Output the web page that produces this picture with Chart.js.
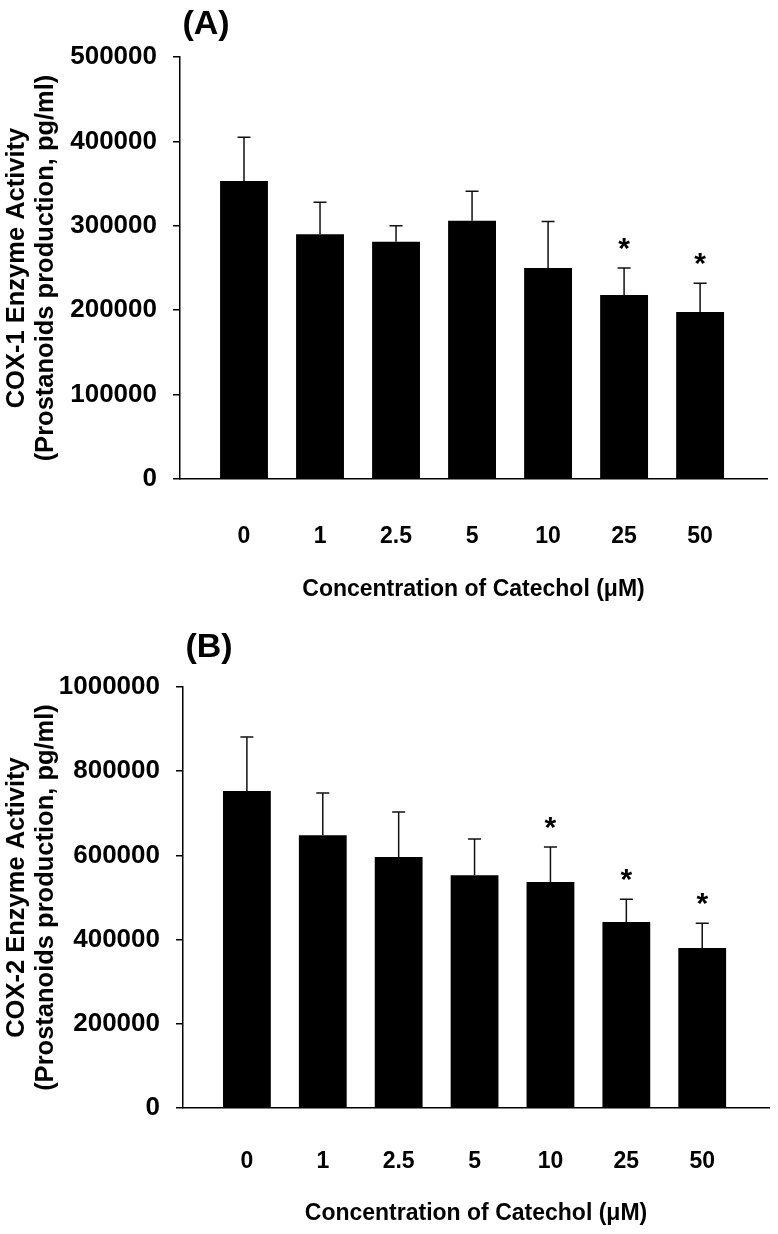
<!DOCTYPE html>
<html>
<head>
<meta charset="utf-8">
<script src="https://cdn.jsdelivr.net/npm/chart.js@4.4.1/dist/chart.umd.min.js"></script>
<style>
    body { margin: 0; background: #fff; }
    canvas { display: block; }
</style>
</head>
<body>
<canvas id="chartA" width="778" height="617"></canvas>
<canvas id="chartB" width="778" height="617"></canvas>
<script>
// концентрации катехола (мкМ)
let concLabels = ['0', '1', '2.5', '5', '10', '25', '50'];

// COX-1
let cox1Values = [353000, 290000, 281000, 306000, 250000, 218000, 198000];
let cox1Errors = [52000, 38000, 19000, 35000, 55000, 32000, 34000];
let cox1Stars = [0, 0, 0, 0, 0, 1, 1];
let cox1Ticks = [0, 100000, 200000, 300000, 400000, 500000];

// COX-2
let cox2Values = [753000, 648000, 596000, 553000, 537000, 442000, 380000];
let cox2Errors = [128000, 100000, 107000, 86000, 83000, 54000, 59000];
let cox2Stars = [0, 0, 0, 0, 1, 1, 1];
let cox2Ticks = [0, 200000, 400000, 600000, 800000, 1000000];

const FONT = '"Liberation Sans", Arial, sans-serif';

Chart.defaults.font.family = FONT;
Chart.defaults.color = '#000';

// усы ошибок, звездочки и подпись панели
let extrasPlugin = {
    id: 'extras',
    afterDatasetsDraw(chart, args, opts) {
        let ctx = chart.ctx;
        let xs = chart.scales.x;
        let ys = chart.scales.y;
        ctx.save();
        ctx.strokeStyle = '#111';
        ctx.lineWidth = 1.5;
        opts.values.forEach((v, i) => {
            let x = xs.getPixelForValue(i);
            let y0 = ys.getPixelForValue(v);
            let y1 = ys.getPixelForValue(v + opts.errors[i]);
            ctx.beginPath();
            ctx.moveTo(x, y0);
            ctx.lineTo(x, y1);
            ctx.moveTo(x - 6.5, y1);
            ctx.lineTo(x + 6.5, y1);
            ctx.stroke();
            if (opts.stars[i]) {
                ctx.fillStyle = '#000';
                ctx.font = 'bold 30px ' + FONT;
                ctx.textAlign = 'center';
                ctx.textBaseline = 'middle';
                ctx.fillText('*', x, y1 - 18);
            }
        });
        ctx.fillStyle = '#000';
        ctx.font = 'bold 34px ' + FONT;
        ctx.textAlign = 'center';
        ctx.textBaseline = 'middle';
        ctx.fillText(opts.panel, chart.chartArea.left + 26, chart.chartArea.top - opts.panelGap);
        ctx.restore();
    }
};

let makeChart = (id, values, errors, stars, ticks, yTitle, panel, layout) => {
    let data = {
        datasets: [{
            data: values.map((v, i) => ({ x: i, y: v })),
            backgroundColor: '#000',
            borderColor: '#000',
            borderWidth: 0,
            barPercentage: 0.63,
            categoryPercentage: 1,
        }]
    };

    let config = {
        type: 'bar',
        data: data,
        plugins: [extrasPlugin],
        options: {
            responsive: false,
            animation: false,
            devicePixelRatio: 1,
            layout: { padding: { top: layout.top, right: layout.right, left: 0, bottom: 0 } },
            plugins: {
                legend: { display: false },
                tooltip: { enabled: false },
                extras: { values: values, errors: errors, stars: stars, panel: panel, panelGap: layout.panelGap },
            },
            scales: {
                x: {
                    type: 'linear',
                    offset: false,
                    min: -0.842,
                    max: 6.88,
                    afterBuildTicks: (scale) => {
                        scale.ticks = concLabels.map((_, i) => ({ value: i }));
                    },
                    afterFit: (scale) => { scale.height = layout.xHeight; },
                    grid: { display: false, drawTicks: false, offset: false },
                    border: { display: true, color: '#000', width: 1.5 },
                    ticks: {
                        padding: layout.xPad,
                        font: { size: 23, weight: 'bold' },
                        maxRotation: 0,
                        callback: (v) => concLabels[v],
                    },
                    title: {
                        display: true,
                        text: 'Concentration of Catechol (μM)',
                        font: { size: 23, weight: 'bold' },
                        padding: { top: 0, bottom: layout.titleBottom },
                    },
                },
                y: {
                    min: ticks[0],
                    max: ticks[ticks.length - 1],
                    afterBuildTicks: (scale) => {
                        scale.ticks = ticks.map((t) => ({ value: t }));
                    },
                    afterFit: (scale) => { scale.width = layout.yWidth; },
                    grid: { display: true, drawOnChartArea: false, drawTicks: true, tickLength: 7, color: '#000', lineWidth: 1.5 },
                    border: { display: true, color: '#000', width: 1.5 },
                    ticks: {
                        padding: 16,
                        font: { size: 26, weight: 'bold' },
                        callback: (v) => String(v),
                    },
                    title: {
                        display: true,
                        text: yTitle,
                        font: { size: 25.5, weight: 'bold', lineHeight: 1.12 },
                        padding: { top: 3, bottom: 0 },
                    },
                },
            },
        },
    };

    return new Chart(document.getElementById(id), config);
};

let chartA = makeChart('chartA', cox1Values, cox1Errors, cox1Stars, cox1Ticks,
    ['COX-1 Enzyme Activity', '(Prostanoids production, pg/ml)'], '(A)',
    { top: 57, right: 11, yWidth: 180, xHeight: 138, xPad: 44, titleBottom: 14, panelGap: 32 });

let chartB = makeChart('chartB', cox2Values, cox2Errors, cox2Stars, cox2Ticks,
    ['COX-2 Enzyme Activity', '(Prostanoids production, pg/ml)'], '(B)',
    { top: 70, right: 9, yWidth: 183, xHeight: 126, xPad: 40, titleBottom: 7, panelGap: 39 });
</script>
</body>
</html>
